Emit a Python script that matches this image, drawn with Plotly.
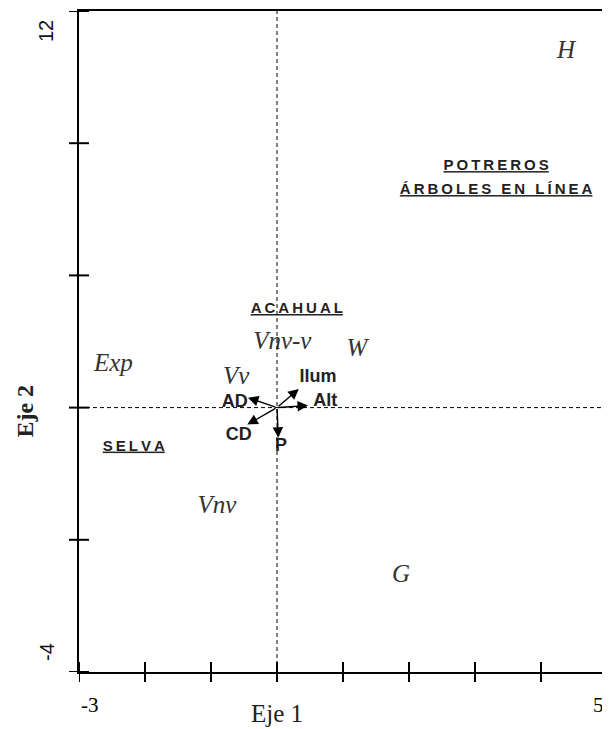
import plotly.graph_objects as go

# ---- data ----
site_names = ["H", "W", "Vnv-v", "Exp", "Vv", "Vnv", "G"]
site_x = [4.38, 1.21, 0.08, -2.48, -0.62, -0.91, 1.88]
site_y = [11.01, 3.80, 3.96, 3.43, 3.12, 0.01, -1.68]

group_names = ["POTREROS", "ÁRBOLES EN LÍNEA", "ACAHUAL", "SELVA"]
group_x = [3.32, 3.32, 0.30, -2.17]
group_y = [8.24, 7.66, 4.78, 1.45]

var_names = ["Ilum", "AD", "Alt", "CD", "P"]
var_x = [0.33, -0.44, 0.47, -0.45, 0.02]
var_y = [2.85, 2.64, 2.45, 1.99, 1.67]
var_label_x = [0.62, -0.64, 0.73, -0.58, 0.06]
var_label_y = [3.14, 2.53, 2.54, 1.72, 1.45]

origin_x, origin_y = 0.0, 2.4
x_ticks = [-3, -2, -1, 0, 1, 2, 3, 4, 5]
y_ticks = [-4, -0.8, 2.4, 5.6, 8.8, 12]
x_range = [-3, 5]
y_range = [-4, 12]

# page body has an 8px margin; figure is sized/offset to compensate
W, H = 602, 721
ML, MR, MT, MB = 71, 3, 1, 57
PW, PH = W - ML - MR, H - MT - MB


def spaced(s):
    return "\u2009".join("\u00a0" if c == " " else c for c in s)


fig = go.Figure()

fig.add_trace(go.Scatter(
    x=site_x, y=site_y, mode="text",
    text=["<i>%s</i>" % s for s in site_names],
    textfont=dict(family="Liberation Serif", size=25, color="#333333"),
    hoverinfo="skip", showlegend=False, cliponaxis=False))

fig.add_trace(go.Scatter(
    x=group_x, y=group_y, mode="text",
    text=["<u><b>%s</b></u>" % spaced(s) for s in group_names],
    textfont=dict(family="Liberation Sans", size=15, color="#222222"),
    hoverinfo="skip", showlegend=False, cliponaxis=False))

fig.add_trace(go.Scatter(
    x=var_label_x, y=var_label_y, mode="text",
    text=["<b>%s</b>" % s for s in var_names],
    textfont=dict(family="Liberation Sans", size=18, color="#222222"),
    hoverinfo="skip", showlegend=False, cliponaxis=False))

# vectors
for vx, vy in zip(var_x, var_y):
    fig.add_annotation(x=vx, y=vy, ax=origin_x, ay=origin_y,
                       xref="x", yref="y", axref="x", ayref="y",
                       text="", showarrow=True, arrowhead=2,
                       arrowsize=1.5, arrowwidth=1.4, arrowcolor="black")

# dashed reference lines
fig.add_shape(type="line", xref="x", yref="y", x0=origin_x, x1=origin_x,
              y0=y_range[0], y1=y_range[1],
              line=dict(color="black", width=1, dash="4px,3px"))
fig.add_shape(type="line", xref="x", yref="y", x0=x_range[0], x1=x_range[1],
              y0=origin_y, y1=origin_y,
              line=dict(color="black", width=1, dash="4px,3px"))

# crossing tick marks
for t in x_ticks:
    fig.add_shape(type="line", xref="x", yref="paper", x0=t, x1=t,
                  y0=-10 / PH, y1=10 / PH, line=dict(color="black", width=2))
for t in y_ticks:
    fig.add_shape(type="line", xref="paper", yref="y", x0=-10 / PW, x1=10 / PW,
                  y0=t, y1=t, line=dict(color="black", width=2))

ann_common = dict(showarrow=False, xanchor="center", yanchor="middle")

# tick labels (only ends are labelled)
fig.add_annotation(xref="paper", yref="y", x=0, y=y_ticks[-1], xshift=-33, yshift=-20,
                   text=str(y_ticks[-1]), textangle=-90,
                   font=dict(family="Liberation Sans", size=20, color="#111"), **ann_common)
fig.add_annotation(xref="paper", yref="y", x=0, y=y_ticks[0], xshift=-32, yshift=20,
                   text=str(y_ticks[0]), textangle=-90,
                   font=dict(family="Liberation Sans", size=20, color="#111"), **ann_common)
fig.add_annotation(xref="x", yref="paper", x=x_ticks[0], y=0, xshift=11, yshift=-33,
                   text=str(x_ticks[0]),
                   font=dict(family="Liberation Serif", size=21, color="#000"), **ann_common)
fig.add_annotation(xref="x", yref="paper", x=x_ticks[-1], y=0, xshift=-9, yshift=-33,
                   text=str(x_ticks[-1]),
                   font=dict(family="Liberation Serif", size=21, color="#000"), **ann_common)

# axis titles
fig.add_annotation(xref="x", yref="paper", x=0, y=0, yshift=-41,
                   text="Eje 1",
                   font=dict(family="Liberation Serif", size=25, color="#222"), **ann_common)
fig.add_annotation(xref="paper", yref="y", x=0, y=origin_y, xshift=-54, yshift=-4,
                   text="<b>Eje 2</b>", textangle=-90,
                   font=dict(family="Liberation Serif", size=24, color="#222"), **ann_common)

axis_common = dict(showgrid=False, zeroline=False, showline=True, mirror=True,
                   linecolor="black", linewidth=2, ticks="", showticklabels=False,
                   fixedrange=True)
fig.update_xaxes(range=x_range, **axis_common)
fig.update_yaxes(range=y_range, **axis_common)

fig.update_layout(width=W, height=H,
                  margin=dict(l=ML, r=MR, t=MT, b=MB),
                  plot_bgcolor="white", paper_bgcolor="white",
                  showlegend=False)

fig.write_html("out.html")
